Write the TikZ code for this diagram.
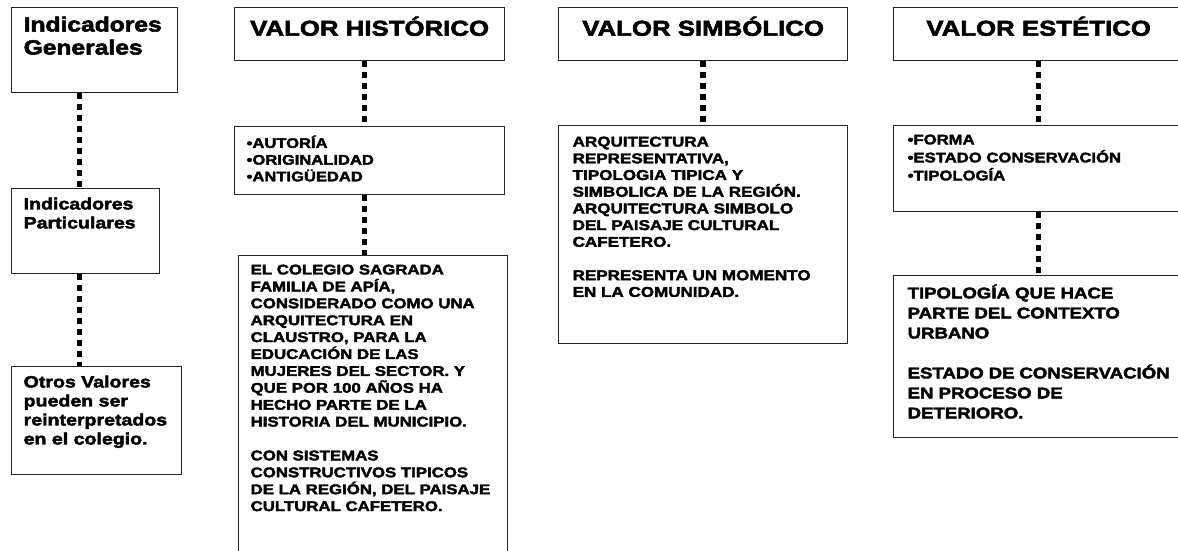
\documentclass[tikz,border=0pt]{standalone}
\usepackage{fontspec}
\setmainfont{Liberation Sans}[FakeStretch=1.2,FakeBold=2.5]
\usetikzlibrary{
    positioning,
    calc,
}

% text block of a box: width, height, lines
\newcommand{\boxtext}[3]{\parbox[t][#2][t]{#1}{#3}}

\begin{document}
\begin{tikzpicture}[
    x=1pt, y=-1pt,
    valbox/.style={draw=black!85, line width=1.3pt, fill=white, anchor=north west,
                   inner xsep=12pt, inner ysep=9pt, align=left},
    title/.style={font=\fontsize{21.5}{24}\selectfont\bfseries},
    link/.style={line width=5.5pt, dash pattern=on 5.5pt off 5.5pt}
]
\useasboundingbox (0,0) rectangle (1178,550);
\clip (0,0) rectangle (1178,550);

% left column
\node[valbox, font=\fontsize{20.5}{23}\selectfont\bfseries] (gen) at (11,7)
    {\boxtext{142pt}{67pt}{Indicadores\\Generales}};
\node[valbox, font=\fontsize{16.3}{19}\selectfont\bfseries] (part) at (11,188)
    {\boxtext{124pt}{67pt}{Indicadores\\Particulares}};
\node[valbox, font=\fontsize{16.3}{19}\selectfont\bfseries] (otros) at (11,366)
    {\boxtext{146pt}{90pt}{Otros Valores\\pueden ser\\reinterpretados\\en el colegio.}};

% valor historico
\node[valbox, title] (hist) at (234,7)
    {\boxtext{246pt}{35pt}{\centering VALOR HISTÓRICO}};
\node[valbox, font=\fontsize{13.8}{16.7}\selectfont\bfseries] (histind) at (234,126)
    {\boxtext{246pt}{50pt}{•AUTORÍA\\•ORIGINALIDAD\\•ANTIGÜEDAD}};
\node[valbox, font=\fontsize{14}{16.9}\selectfont\bfseries] (histdesc) at (238,255)
    {\boxtext{245pt}{302pt}{EL COLEGIO SAGRADA\\
        FAMILIA DE APÍA,\\
        CONSIDERADO COMO UNA\\
        ARQUITECTURA EN\\
        CLAUSTRO, PARA LA\\
        EDUCACIÓN DE LAS\\
        MUJERES DEL SECTOR. Y\\
        QUE POR 100 AÑOS HA\\
        HECHO PARTE DE LA\\
        HISTORIA DEL MUNICIPIO.\\[\baselineskip]
        CON SISTEMAS\\
        CONSTRUCTIVOS TIPICOS\\
        DE LA REGIÓN, DEL PAISAJE\\
        CULTURAL CAFETERO.}};

% valor simbolico
\node[valbox, title] (sim) at (558,7)
    {\boxtext{265pt}{35pt}{\centering VALOR SIMBÓLICO}};
\node[valbox, inner xsep=14pt, inner ysep=11pt, font=\fontsize{14.2}{16.7}\selectfont\bfseries] (simdesc) at (558,125)
    {\boxtext{261pt}{196pt}{ARQUITECTURA\\
        REPRESENTATIVA,\\
        TIPOLOGIA TIPICA Y\\
        SIMBOLICA DE LA REGIÓN.\\
        ARQUITECTURA SIMBOLO\\
        DEL PAISAJE CULTURAL\\
        CAFETERO.\\[\baselineskip]
        REPRESENTA UN MOMENTO\\
        EN LA COMUNIDAD.}};

% valor estetico
\node[valbox, title] (est) at (893,7)
    {\boxtext{266pt}{35pt}{\centering VALOR ESTÉTICO}};
\node[valbox, inner xsep=14pt, font=\fontsize{13.9}{18}\selectfont\bfseries] (estind) at (893,125)
    {\boxtext{262pt}{68pt}{•FORMA\\•ESTADO CONSERVACIÓN\\•TIPOLOGÍA}};
\node[valbox, inner xsep=14pt, font=\fontsize{15.5}{20}\selectfont\bfseries] (estdesc) at (893,275)
    {\boxtext{262pt}{144pt}{TIPOLOGÍA QUE HACE\\
        PARTE DEL CONTEXTO\\
        URBANO\\[\baselineskip]
        ESTADO DE CONSERVACIÓN\\
        EN PROCESO DE\\
        DETERIORO.}};

% dotted links
\draw[link] ([xshift=-15pt]gen.south) -- ([xshift=-15pt]gen.south |- part.north);
\draw[link] ([xshift=-6pt]part.south) -- ([xshift=-6pt]part.south |- otros.north);
\draw[link] ([xshift=-5pt]hist.south) -- ([xshift=-5pt]hist.south |- histind.north);
\draw[link] ([xshift=-5pt]histind.south) -- ([xshift=-5pt]histind.south |- histdesc.north);
\draw[link] (sim.south) -- (sim.south |- simdesc.north);
\draw[link] (est.south) -- (est.south |- estind.north);
\draw[link] (estind.south) -- (estind.south |- estdesc.north);

\end{tikzpicture}
\end{document}
